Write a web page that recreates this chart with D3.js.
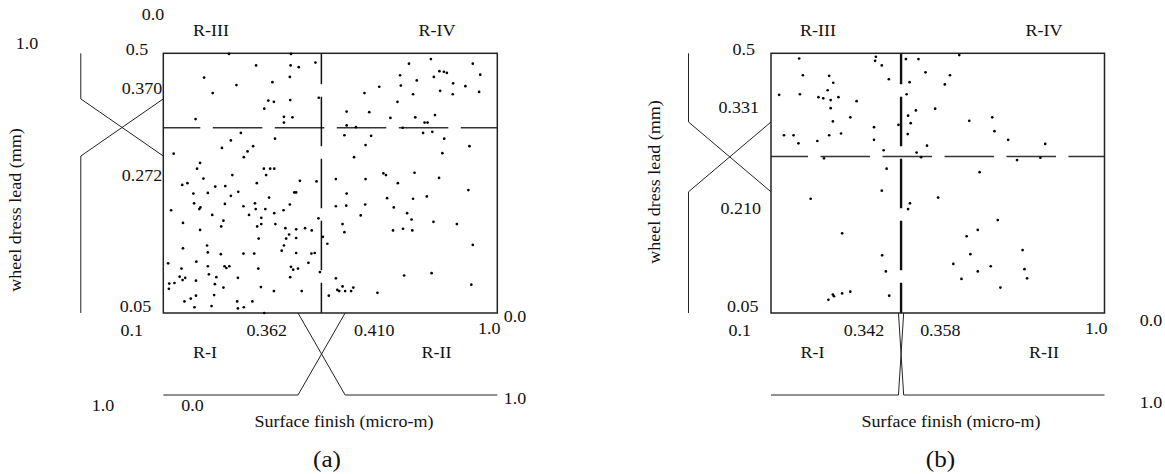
<!DOCTYPE html>
<html><head><meta charset="utf-8">
<script src="https://cdn.jsdelivr.net/npm/d3@7"></script>
<style>
body{margin:0;background:#fff}
svg{display:block}
text{font-family:"Liberation Serif","Times New Roman",serif;fill:#111}
</style>
</head><body>
<svg id="c" width="1165" height="474"></svg>
<script>
// ---------------- data ----------------
const xDomain = [0.1, 1.0];          // surface finish
const yDomain = [0.05, 0.5];         // wheel dress lead
const xAxisTitle = "Surface finish (micro-m)";
const yAxisTitle = "wheel dress lead (mm)";
const captions = ["(a)", "(b)"];
const regionNames = ["R-I", "R-II", "R-III", "R-IV"];

const aXTicks = ["0.1", "0.362", "0.410", "1.0"];
const aYTicks = ["0.5", "0.370", "0.272", "0.05"];
const bXTicks = ["0.1", "0.342", "0.358", "1.0"];
const bYTicks = ["0.5", "0.331", "0.210", "0.05"];

const aSplit = [0.526, 0.371];       // x split, y split
const bSplit = [0.451, 0.321];
const aXMf = [0.463, 0.590];         // membership breakpoints on x
const aYMf = [0.322, 0.421];         // membership breakpoints on y
const bXMf = [0.444, 0.458];
const bYMf = [0.260, 0.381];

const aX = [
0.277,0.444,0.350,0.443,0.465,0.510,0.210,0.297,0.441,0.394,
0.233,0.383,0.398,0.442,0.519,0.372,0.187,0.425,0.448,0.425,
0.309,0.282,0.401,0.258,0.342,0.327,0.317,0.128,0.199,0.191,
0.371,0.388,0.399,
0.286,0.377,0.208,0.468,0.513,0.151,0.165,0.240,0.267,0.352,
0.181,0.220,0.282,0.302,0.385,0.453,0.458,0.183,0.200,0.197,
0.266,0.316,0.347,0.349,0.375,0.441,0.121,0.232,0.331,0.364,
0.399,0.424,0.518,0.153,0.262,0.256,0.353,0.364,0.402,0.429,
0.458,0.482,0.500,0.199,0.439,0.530,0.431,0.458,0.357,0.542,
0.425,0.218,0.419,0.153,0.220,0.255,0.316,0.345,0.458,0.499,
0.508,0.189,0.113,0.491,0.220,0.265,0.270,0.278,0.356,0.444,
0.450,0.463,0.149,0.522,0.223,0.144,0.159,0.152,0.243,0.301,
0.442,0.188,0.116,0.130,0.115,0.239,0.262,0.363,0.398,0.473,
0.188,0.174,0.157,0.237,0.184,0.230,0.299,0.340,0.301,0.317,
0.372,
0.821,0.762,0.934,0.844,0.856,0.864,0.738,0.829,0.954,0.783,
0.740,0.881,0.914,0.682,0.642,0.846,0.773,0.880,0.951,0.731,
0.594,0.655,0.832,0.712,0.779,0.804,0.812,0.594,0.619,0.745,
0.588,0.660,0.800,0.825,0.857,0.645,0.925,0.852,0.614,0.693,
0.700,0.777,0.843,0.565,0.645,0.732,0.922,0.594,0.703,0.773,
0.810,0.565,0.593,0.644,0.721,0.632,0.757,0.769,0.583,0.828,
0.891,0.588,0.719,0.746,0.771,0.934,0.749,0.823,0.930,0.583,
0.569,0.574,0.590,0.606,0.612,0.546,0.677,0.565
];
const aY = [
0.499,0.499,0.479,0.479,0.476,0.484,0.458,0.445,0.459,0.450,
0.431,0.418,0.416,0.419,0.423,0.404,0.386,0.390,0.389,0.380,
0.362,0.349,0.352,0.336,0.339,0.330,0.320,0.326,0.310,0.300,
0.300,0.300,0.300,
0.289,0.289,0.283,0.279,0.278,0.272,0.275,0.269,0.270,0.275,
0.257,0.258,0.253,0.260,0.250,0.259,0.259,0.240,0.233,0.230,
0.239,0.235,0.240,0.230,0.230,0.238,0.228,0.220,0.220,0.215,
0.223,0.228,0.214,0.206,0.210,0.200,0.200,0.204,0.204,0.197,
0.195,0.197,0.193,0.194,0.186,0.182,0.179,0.180,0.179,0.170,
0.167,0.167,0.158,0.162,0.155,0.152,0.153,0.153,0.154,0.153,
0.154,0.139,0.136,0.137,0.131,0.131,0.128,0.131,0.127,0.130,
0.125,0.127,0.127,0.121,0.117,0.113,0.111,0.107,0.112,0.111,
0.112,0.106,0.101,0.102,0.092,0.100,0.094,0.095,0.088,0.088,
0.080,0.075,0.070,0.081,0.060,0.062,0.070,0.070,0.058,0.060,
0.050,
0.490,0.482,0.482,0.469,0.468,0.466,0.462,0.459,0.463,0.453,
0.444,0.448,0.443,0.442,0.431,0.435,0.429,0.429,0.433,0.416,
0.399,0.398,0.393,0.388,0.389,0.380,0.380,0.375,0.372,0.371,
0.358,0.357,0.362,0.364,0.352,0.341,0.339,0.327,0.320,0.292,
0.289,0.293,0.284,0.282,0.282,0.275,0.263,0.257,0.249,0.248,
0.252,0.235,0.236,0.238,0.233,0.219,0.223,0.212,0.204,0.208,
0.204,0.190,0.193,0.196,0.193,0.168,0.115,0.119,0.099,0.096,
0.090,0.088,0.088,0.088,0.094,0.080,0.085,0.110
];
const bX = [
0.176,0.383,0.381,0.399,0.464,0.498,0.517,0.186,0.257,0.268,
0.418,0.474,0.253,0.122,0.178,0.228,0.241,0.261,0.282,0.331,
0.466,0.261,0.491,0.470,0.314,0.267,0.444,0.477,0.378,0.135,
0.161,0.257,0.289,0.469,0.174,0.225,0.378,0.521,0.404,0.493,
0.505,0.243,0.412,0.399,0.475,0.470,0.207,0.292,0.608,0.583,
0.569,0.543,0.635,0.697,0.703,0.740,0.840,0.764,0.827,0.663,
0.400,0.410,0.267,0.270,0.255,0.292,0.314,0.419,0.551,0.712,
0.658,0.628,0.779,0.638,0.592,0.693,0.658,0.784,0.614,0.791,0.719
];
const bY = [
0.491,0.494,0.487,0.479,0.490,0.490,0.467,0.462,0.461,0.449,
0.455,0.450,0.436,0.428,0.429,0.424,0.422,0.419,0.424,0.417,
0.429,0.405,0.401,0.392,0.389,0.382,0.376,0.379,0.372,0.358,
0.358,0.358,0.361,0.360,0.344,0.348,0.350,0.340,0.332,0.328,
0.320,0.318,0.300,0.262,0.240,0.230,0.248,0.188,0.497,0.462,
0.446,0.404,0.383,0.389,0.365,0.350,0.343,0.315,0.319,0.294,
0.150,0.122,0.082,0.079,0.073,0.084,0.087,0.080,0.250,0.211,
0.194,0.183,0.159,0.152,0.135,0.131,0.122,0.126,0.109,0.110,0.094
];

// ---------------- layout ----------------
const panels = [
  { left:163.3, right:497.3, top:53.3, bottom:313, xs:aX, ys:aY, split:aSplit, xmf:aXMf, ymf:aYMf,
    xt:aXTicks, yt:aYTicks, cap:captions[0], vSplitW:1.5,
    yTickPos:[[-15,-4],[-1,-10],[-1,19],[-12,-7]],
    xTickPos:[[-31.6,17],[-31.3,17],[29,17],[-8,15]],
    reg:[[205,352.7],[436.5,352.7],[211,30],[437,30]],
    yTitle:[15,210], xTitle:[344,421], capPos:[327,459],
    extra:[["0.0",153,14],["1.0",27,43],["1.0",103,405],["0.0",192.5,405],["0.0",515,316],["1.0",515,398]] },
  { left:771, right:1104.5, top:53.3, bottom:313, xs:bX, ys:bY, split:bSplit, xmf:bXMf, ymf:bYMf,
    xt:bXTicks, yt:bYTicks, cap:captions[1], vSplitW:2.4,
    yTickPos:[[-16,-4],[-12,-15],[-10,17],[-12.5,-7]],
    xTickPos:[[-31.2,17],[-34.5,17],[36.7,17],[-8.2,15]],
    reg:[[812.5,352.7],[1044,352.7],[818,30],[1044,30]],
    yTitle:[654.5,182], xTitle:[951,421], capPos:[940.5,459],
    extra:[["0.0",1151,320],["1.0",1151,402.7]] }
];

const svg = d3.select("#c");
function txt(g, s, x, y, o = {}) {
  const size = o.size || 16, sx = o.sx || 1.125, rot = o.rot || 0;
  g.append("text")
    .attr("transform", `translate(${x},${y}) rotate(${rot}) scale(${sx},1)`)
    .attr("text-anchor", o.anchor || "middle")
    .attr("dy", "0.35em")
    .attr("font-size", size)
    .text(s);
}

panels.forEach(p => {
  const g = svg.append("g");
  const x = d3.scaleLinear().domain(xDomain).range([p.left, p.right]);
  const y = d3.scaleLinear().domain(yDomain).range([p.bottom, p.top]);
  const mx = d3.scaleLinear().domain([0, 1]).range([p.left, p.left - 82.5]);
  const my = d3.scaleLinear().domain([0, 1]).range([p.bottom, p.bottom + 82]);
  const line = d3.line().x(d => d[0]).y(d => d[1]);

  const [yLo, yHi] = p.ymf, [xLo, xHi] = p.xmf;
  const mf = [
    [[mx(1), y(yDomain[1])], [mx(1), y(yHi)], [mx(0), y(yLo)]],
    [[mx(0), y(yHi)], [mx(1), y(yLo)], [mx(1), y(yDomain[0])]],
    [[x(xDomain[0]), my(1)], [x(xLo), my(1)], [x(xHi), my(0)]],
    [[x(xLo), my(0)], [x(xHi), my(1)], [x(xDomain[1]), my(1)]]
  ];
  g.selectAll("path.mf").data(mf).join("path").attr("class", "mf")
    .attr("d", line).attr("fill", "none").attr("stroke", "#222").attr("stroke-width", 1);

  g.append("line")
    .attr("x1", x(xDomain[0])).attr("x2", x(xDomain[1]))
    .attr("y1", y(p.split[1])).attr("y2", y(p.split[1]))
    .attr("stroke", "#333").attr("stroke-width", 1.5)
    .attr("stroke-dasharray", "49.5,12.5").attr("stroke-dashoffset", 12.5);
  g.append("line")
    .attr("x1", x(p.split[0])).attr("x2", x(p.split[0]))
    .attr("y1", y(yDomain[1])).attr("y2", y(yDomain[0]))
    .attr("stroke", "#111").attr("stroke-width", p.vSplitW)
    .attr("stroke-dasharray", "49.5,12.5").attr("stroke-dashoffset", 18.5);

  g.append("rect")
    .attr("x", x(xDomain[0])).attr("y", y(yDomain[1]))
    .attr("width", x(xDomain[1]) - x(xDomain[0]))
    .attr("height", y(yDomain[0]) - y(yDomain[1]))
    .attr("fill", "none").attr("stroke", "#222").attr("stroke-width", 1.5);

  g.selectAll("circle").data(p.xs.map((v, i) => [v, p.ys[i]])).join("circle")
    .attr("cx", d => x(d[0])).attr("cy", d => y(d[1])).attr("r", 1.35).attr("fill", "#000");

  const yRef = [y(yDomain[1]), y(yHi), y(yLo), y(yDomain[0])];
  p.yt.forEach((t, i) => txt(g, t, p.left + p.yTickPos[i][0], yRef[i] + p.yTickPos[i][1], { anchor: "end" }));
  const xRef = [x(xDomain[0]), x(xLo), x(xHi), x(xDomain[1])];
  p.xt.forEach((t, i) => txt(g, t, xRef[i] + p.xTickPos[i][0], p.bottom + p.xTickPos[i][1]));
  regionNames.forEach((t, i) => txt(g, t, p.reg[i][0], p.reg[i][1]));
  p.extra.forEach(e => txt(g, e[0], e[1], e[2]));
  txt(g, yAxisTitle, p.yTitle[0], p.yTitle[1], { rot: -90 });
  txt(g, xAxisTitle, p.xTitle[0], p.xTitle[1]);
  txt(g, p.cap, p.capPos[0], p.capPos[1], { size: 24, sx: 1.05 });
});
</script>
</body></html>
